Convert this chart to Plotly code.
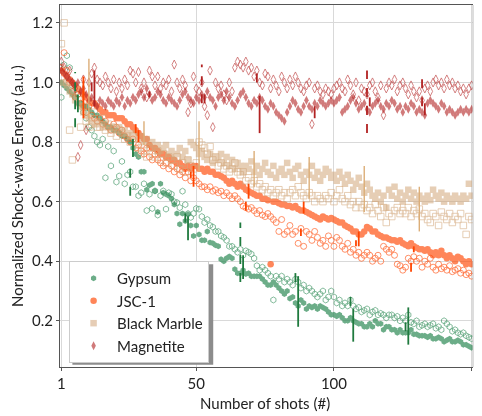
import plotly.graph_objects as go

shots = list(range(1, 151))

gypsum_a = [1.00,0.99,0.98,0.97,0.96,0.95,0.93,0.93,0.92,0.92,
            0.91,0.90,0.89,0.89,0.88,0.87,0.86,0.85,0.85,0.84,
            0.84,0.83,0.82,0.82,0.81,0.80,0.78,0.76,0.75,0.70,
            0.70,0.64,0.655,0.66,0.636,0.565,0.66,0.63,0.625,0.62,
            0.61,0.59,0.56,0.524,0.56,0.535,0.558,0.52,0.485,0.52,
            0.49,0.47,0.47,0.50,0.463,0.46,0.454,0.45,0.407,0.40,
            0.41,0.416,0.41,0.373,0.36,0.36,0.37,0.357,0.36,0.35,
            0.35,0.35,0.35,0.34,0.33,0.32,0.32,0.33,0.32,0.31,
            0.30,0.29,0.30,0.275,0.28,0.26,0.25,0.27,0.26,0.24,
            0.25,0.245,0.25,0.24,0.25,0.245,0.24,0.23,0.22,0.22,
            0.215,0.22,0.21,0.20,0.20,0.21,0.20,0.195,0.19,0.19,
            0.18,0.18,0.19,0.18,0.20,0.19,0.19,0.17,0.18,0.18,
            0.17,0.17,0.16,0.17,0.16,0.16,0.16,0.17,0.155,0.155,
            0.15,0.15,0.15,0.145,0.15,0.14,0.14,0.145,0.14,0.13,
            0.135,0.14,0.13,0.13,0.135,0.13,0.12,0.12,0.115,0.11]
gypsum_b = [0.95,1.06,1.09,1.05,0.99,0.95,0.96,0.93,0.90,0.88,
            0.85,0.84,0.82,0.80,0.79,0.81,0.68,0.785,0.72,0.77,
            0.666,0.686,0.735,0.66,0.69,0.70,0.65,0.65,0.62,0.63,
            0.66,0.57,0.625,0.577,0.636,0.555,0.62,0.636,0.575,0.63,
            0.625,0.60,0.597,0.58,0.635,0.59,0.56,0.547,0.56,0.577,
            0.575,0.55,0.53,0.54,0.52,0.515,0.50,0.50,0.485,0.48,
            0.47,0.45,0.45,0.44,0.43,0.44,0.42,0.435,0.43,0.424,
            0.41,0.385,0.37,0.38,0.37,0.36,0.35,0.27,0.35,0.34,
            0.35,0.33,0.34,0.33,0.32,0.34,0.33,0.31,0.32,0.30,
            0.31,0.30,0.29,0.28,0.29,0.30,0.27,0.28,0.30,0.28,
            0.26,0.27,0.25,0.26,0.25,0.27,0.25,0.24,0.245,0.23,
            0.235,0.24,0.22,0.23,0.235,0.22,0.225,0.22,0.21,0.22,
            0.22,0.21,0.215,0.20,0.21,0.20,0.22,0.195,0.19,0.20,
            0.18,0.185,0.19,0.18,0.185,0.19,0.175,0.18,0.17,0.20,
            0.19,0.18,0.165,0.17,0.16,0.155,0.16,0.15,0.145,0.14]

jsc_a = [1.04,1.03,1.02,1.01,1.00,0.99,0.98,0.97,0.96,0.95,
         0.94,0.93,0.93,0.92,0.91,0.90,0.90,0.89,0.89,0.89,
         0.88,0.88,0.88,0.87,0.86,0.86,0.85,0.84,0.83,0.82,
         0.81,0.81,0.79,0.78,0.78,0.77,0.76,0.76,0.75,0.75,
         0.74,0.74,0.73,0.73,0.72,0.71,0.72,0.71,0.72,0.72,
         0.71,0.71,0.70,0.71,0.70,0.70,0.69,0.69,0.685,0.68,
         0.67,0.66,0.67,0.66,0.65,0.66,0.65,0.64,0.635,0.63,
         0.625,0.62,0.62,0.61,0.61,0.605,0.39,0.60,0.60,0.595,
         0.59,0.59,0.585,0.585,0.58,0.585,0.575,0.57,0.57,0.565,
         0.56,0.555,0.55,0.545,0.54,0.55,0.545,0.54,0.545,0.54,
         0.535,0.53,0.53,0.52,0.515,0.51,0.50,0.50,0.49,0.49,
         0.50,0.515,0.51,0.50,0.50,0.49,0.485,0.48,0.48,0.475,
         0.47,0.47,0.465,0.47,0.46,0.455,0.45,0.46,0.45,0.445,
         0.44,0.44,0.435,0.44,0.43,0.42,0.43,0.42,0.435,0.42,
         0.41,0.42,0.41,0.40,0.415,0.41,0.40,0.39,0.40,0.39]
jsc_b = [1.05,1.10,1.04,1.00,0.97,0.95,0.96,0.93,0.92,0.90,
         0.92,0.89,0.88,0.87,0.88,0.86,0.87,0.85,0.84,0.86,
         0.85,0.83,0.84,0.82,0.81,0.80,0.81,0.78,0.79,0.77,
         0.76,0.78,0.75,0.74,0.76,0.74,0.73,0.72,0.73,0.71,
         0.72,0.70,0.71,0.69,0.70,0.68,0.70,0.67,0.68,0.67,
         0.66,0.65,0.65,0.64,0.65,0.635,0.64,0.63,0.635,0.62,
         0.63,0.62,0.61,0.62,0.61,0.60,0.585,0.58,0.575,0.58,
         0.57,0.56,0.57,0.555,0.55,0.56,0.55,0.54,0.53,0.50,
         0.54,0.49,0.50,0.52,0.49,0.50,0.46,0.51,0.45,0.50,
         0.49,0.47,0.50,0.48,0.46,0.47,0.45,0.485,0.47,0.45,
         0.48,0.47,0.45,0.44,0.46,0.43,0.44,0.42,0.43,0.41,
         0.42,0.43,0.42,0.40,0.41,0.42,0.40,0.45,0.44,0.43,
         0.44,0.42,0.39,0.385,0.37,0.38,0.41,0.40,0.415,0.40,
         0.41,0.38,0.40,0.39,0.41,0.38,0.37,0.39,0.375,0.38,
         0.37,0.385,0.365,0.37,0.375,0.36,0.37,0.355,0.36,0.35]

marble_a = [1.00,1.00,0.99,0.97,0.96,0.94,0.93,0.92,0.90,0.89,
            0.88,0.87,0.86,0.87,0.86,0.85,0.86,0.85,0.84,0.85,
            0.84,0.85,0.83,0.84,0.83,0.82,0.83,0.82,0.81,0.82,
            0.80,0.81,0.79,0.80,0.78,0.79,0.77,0.78,0.79,0.76,
            0.77,0.75,0.76,0.78,0.75,0.77,0.74,0.80,0.79,0.78,
            0.76,0.77,0.75,0.74,0.76,0.73,0.75,0.74,0.76,0.73,
            0.75,0.72,0.74,0.71,0.73,0.72,0.70,0.72,0.71,0.735,
            0.70,0.72,0.69,0.71,0.73,0.70,0.69,0.72,0.68,0.70,
            0.71,0.69,0.73,0.70,0.68,0.71,0.72,0.69,0.67,0.70,
            0.69,0.72,0.68,0.70,0.67,0.69,0.71,0.70,0.68,0.69,
            0.67,0.70,0.68,0.66,0.69,0.67,0.64,0.66,0.68,0.65,
            0.63,0.66,0.64,0.62,0.61,0.63,0.60,0.62,0.58,0.64,
            0.62,0.65,0.61,0.63,0.60,0.62,0.64,0.61,0.63,0.60,
            0.62,0.61,0.60,0.62,0.605,0.64,0.62,0.61,0.63,0.60,
            0.62,0.61,0.60,0.62,0.61,0.60,0.62,0.61,0.66,0.62]
marble_b = [1.13,1.20,1.00,0.84,0.74,0.98,0.95,0.85,0.92,0.87,
            0.85,0.86,0.90,0.85,0.85,0.88,0.84,0.86,0.83,0.85,
            0.82,0.84,0.83,0.81,0.82,0.80,0.82,0.79,0.78,0.76,
            0.77,0.75,0.78,0.76,0.75,0.77,0.74,0.76,0.73,0.75,
            0.74,0.72,0.75,0.71,0.73,0.70,0.74,0.72,0.71,0.73,
            0.80,0.79,0.78,0.76,0.785,0.74,0.75,0.72,0.73,0.71,
            0.72,0.70,0.71,0.73,0.70,0.69,0.70,0.67,0.68,0.66,
            0.67,0.65,0.66,0.64,0.65,0.63,0.64,0.62,0.63,0.64,
            0.62,0.63,0.61,0.63,0.64,0.62,0.65,0.63,0.62,0.61,
            0.63,0.62,0.60,0.62,0.61,0.60,0.62,0.61,0.63,0.60,
            0.62,0.64,0.61,0.60,0.62,0.59,0.60,0.58,0.60,0.58,
            0.59,0.57,0.58,0.56,0.59,0.57,0.55,0.58,0.53,0.56,
            0.55,0.57,0.58,0.56,0.57,0.56,0.58,0.55,0.57,0.56,
            0.575,0.55,0.56,0.54,0.53,0.56,0.55,0.52,0.565,0.55,
            0.54,0.56,0.53,0.55,0.54,0.56,0.52,0.49,0.55,0.54]

magnetite_a = [1.04,1.03,1.02,1.01,1.00,0.99,1.00,0.97,0.98,0.96,
               0.94,0.95,0.93,0.92,0.94,0.93,0.92,0.94,0.93,0.92,
               0.94,0.93,0.95,0.92,0.94,0.93,0.95,0.94,0.96,0.97,
               0.95,0.98,0.96,0.94,0.95,0.97,0.96,0.94,0.93,0.95,
               0.94,0.93,0.92,0.94,0.96,0.97,0.95,0.94,0.93,0.95,
               0.94,0.96,0.95,0.97,0.95,0.94,0.92,0.95,0.96,0.94,
               0.97,0.95,0.93,0.92,0.94,0.96,0.97,0.95,0.93,0.92,
               0.94,0.93,0.95,0.94,0.92,0.91,0.93,0.92,0.90,0.89,
               0.88,0.87,0.90,0.92,0.94,0.93,0.91,0.90,0.92,0.94,
               0.92,0.91,0.93,0.92,0.94,0.93,0.92,0.93,0.94,0.93,
               0.94,0.95,0.90,0.91,0.92,0.94,0.95,0.93,0.91,0.92,
               0.93,0.91,0.90,0.92,0.93,0.94,0.92,0.91,0.93,0.92,
               0.94,0.93,0.91,0.92,0.90,0.92,0.91,0.93,0.92,0.90,
               0.91,0.90,0.89,0.93,0.94,0.93,0.92,0.91,0.93,0.92,
               0.90,0.91,0.90,0.89,0.90,0.91,0.90,0.91,0.90,0.91]
magnetite_b = [1.07,1.05,1.02,1.04,1.00,0.98,0.75,0.79,1.01,0.84,
               1.00,1.03,1.05,1.01,1.00,0.99,1.02,1.00,0.98,1.01,
               0.97,1.00,0.98,1.01,0.99,1.04,1.03,1.00,1.035,0.98,
               1.00,0.95,1.04,1.02,0.99,1.02,0.98,1.00,0.99,1.01,
               0.97,1.06,1.00,0.98,1.01,0.99,0.90,0.93,1.02,0.98,
               0.97,1.00,0.92,0.89,1.04,0.85,1.00,0.98,0.99,0.96,
               0.94,1.00,0.97,1.05,1.07,1.06,1.05,1.07,1.04,1.05,
               1.02,1.04,1.00,0.99,1.03,1.02,0.98,1.01,0.99,0.97,
               1.02,1.00,0.98,1.01,0.99,1.02,1.00,0.98,0.97,0.99,
               1.00,0.86,0.98,0.99,0.97,0.96,0.98,0.97,0.96,0.98,
               0.99,1.00,0.98,0.97,1.01,0.99,0.96,1.00,0.94,0.98,
               0.97,0.96,0.99,1.00,0.97,0.95,0.99,0.89,0.98,1.00,
               0.99,1.01,0.97,0.99,1.00,0.98,0.96,0.99,0.97,0.95,
               0.97,0.94,0.98,0.99,0.97,1.00,1.01,0.99,1.00,0.98,
               1.01,0.99,1.00,0.98,0.99,0.97,0.98,0.96,0.98,0.99]

# error bars: (shot, low, high)
gypsum_a_err = [(7,0.90,0.96),(27,0.75,0.81),(47,0.47,0.55),(67,0.34,0.42),
                (87,0.18,0.35),(107,0.13,0.24),(127,0.12,0.245)]
gypsum_b_err = [(6,0.85,1.035),(26,0.62,0.71),(46,0.53,0.585),(66,0.33,0.53),
                (86,0.33,0.39),(106,0.25,0.30),(126,0.165,0.21)]
jsc_a_err = [(9,0.91,1.02),(29,0.80,0.84),(49,0.65,0.72),(69,0.61,0.66),
             (89,0.56,0.60),(109,0.45,0.50),(129,0.43,0.45)]
jsc_b_err = [(9,0.88,0.98),(28,0.83,0.89),(48,0.68,0.70),(68,0.57,0.60),
             (88,0.485,0.51),(108,0.45,0.47),(128,0.365,0.415)]
marble_a_err = [(11,0.88,1.08),(31,0.79,0.87),(51,0.70,0.87),(71,0.65,0.77),
                (91,0.61,0.75),(111,0.565,0.72),(131,0.50,0.65)]
magnetite_a_err = [(13,0.92,1.04),(33,0.95,0.97),(53,0.93,0.96),(73,0.83,0.955),
                   (93,0.88,0.92),(113,0.92,0.95),(133,0.89,0.93)]
magnetite_b_err = [(12,0.97,1.00),(52,0.93,1.06),(72,1.00,1.04),
                   (112,0.83,1.04),(132,0.92,1.04)]

x_title = "Number of shots (#)"
y_title = "Normalized Shock-wave Energy (a.u.)"

FONT = "Lato"
fig = go.Figure()

def err_trace(errs, color, dash, width=1.8):
    xs, ys = [], []
    for s, lo, hi in errs:
        xs += [s, s, None]
        ys += [lo, hi, None]
    fig.add_trace(go.Scatter(x=xs, y=ys, mode="lines", showlegend=False, hoverinfo="skip",
                             line=dict(color=color, width=width, dash=dash)))

def pts(y, name, symbol, color, size, legend, opacity=0.7):
    if symbol.endswith("-open"):
        marker = dict(symbol=symbol, size=size, color=color, line=dict(width=0.8))
    else:
        marker = dict(symbol=symbol, size=size, color=color, line=dict(width=0))
    fig.add_trace(go.Scatter(x=shots, y=y, mode="markers", name=name, showlegend=legend,
                             opacity=opacity, marker=marker))

green = "#2e8b57"
orange = "#ff4500"
tan = "#d2a679"
red = "#b22222"

pts(gypsum_b, "Gypsum", "hexagon-open", green, 6, False, 0.75)
pts(gypsum_a, "Gypsum", "hexagon", green, 6, True, 0.7)
pts(jsc_b, "JSC-1", "circle-open", orange, 6, False, 0.75)
pts(jsc_a, "JSC-1", "circle", orange, 6.5, True, 0.65)
pts(marble_b, "Black Marble", "square-open", tan, 6.5, False, 0.7)
pts(marble_a, "Black Marble", "square", tan, 6.5, True, 0.55)
pts(magnetite_b, "Magnetite", "diamond-tall-open", red, 6.5, False, 0.7)
pts(magnetite_a, "Magnetite", "diamond-tall", red, 6.5, True, 0.6)

err_trace(gypsum_a_err, "#1f7a3e", "solid")
err_trace(gypsum_b_err, "#1f7a3e", "dash")
err_trace(jsc_a_err, "#ff4500", "solid")
err_trace(jsc_b_err, "#ff4500", "dash")
err_trace(marble_a_err, "#dcae78", "solid", 1.4)
err_trace(magnetite_a_err, "#b22222", "solid")
err_trace(magnetite_b_err, "#b22222", "dash")

fig.update_layout(
    width=482, height=416,
    margin=dict(l=60, r=9, t=5, b=49, autoexpand=False),
    paper_bgcolor="white", plot_bgcolor="white",
    font=dict(family=FONT, size=15, color="#222"),
    showlegend=True,
    legend=dict(x=0.022, y=0.293, xanchor="left", yanchor="top",
                bgcolor="white", bordercolor="#cccccc", borderwidth=1,
                font=dict(size=15, family=FONT), tracegroupgap=0,
                itemwidth=37),
    xaxis=dict(range=[0.5, 150.5], tickvals=[1, 50, 100, 150], ticktext=["1", "50", "100", "150"],
               showgrid=True, gridcolor="#d9d9d9", gridwidth=1, zeroline=False,
               showline=True, linecolor="#555", linewidth=1, mirror=True,
               ticks="outside", ticklen=3, tickcolor="#555", automargin=False,
               tickfont=dict(size=15)),
    yaxis=dict(range=[0.045, 1.26], tickvals=[0.2, 0.4, 0.6, 0.8, 1.0, 1.2],
               ticktext=["0.2", "0.4", "0.6", "0.8", "1.0", "1.2"],
               showgrid=True, gridcolor="#d9d9d9", gridwidth=1, zeroline=False,
               showline=True, linecolor="#555", linewidth=1, automargin=False,
               ticks="outside", ticklen=3, tickcolor="#555",
               tickfont=dict(size=15)),
    annotations=[
        dict(text=x_title, xref="paper", yref="paper", x=0.496, y=-0.099,
             xanchor="center", yanchor="middle", showarrow=False, font=dict(size=15)),
        dict(text=y_title, xref="paper", yref="paper", x=-0.104, y=0.50,
             xanchor="center", yanchor="middle", textangle=-90, showarrow=False,
             font=dict(size=15)),
    ],
    shapes=[
        dict(type="line", xref="paper", yref="paper", x0=1, x1=1, y0=0, y1=1,
             line=dict(color="#bbbbbb", width=1)),
        # legend drop shadow
        dict(type="rect", xref="paper", yref="paper", x0=0.030, x1=0.371, y0=0.006, y1=0.284,
             fillcolor="#8c8c8c", line=dict(width=0), layer="above"),
    ],
)

fig.write_html("out.html", config={"displayModeBar": False},
               post_script="document.body.style.margin='0';")
